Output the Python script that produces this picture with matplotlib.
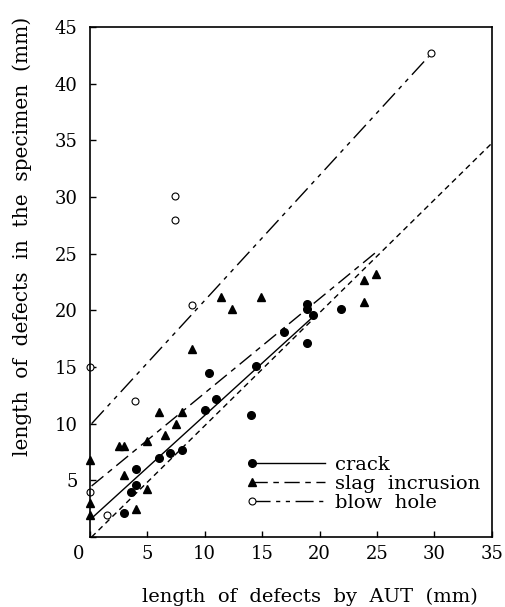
import numpy as np
import matplotlib
matplotlib.use('Agg')
import matplotlib.pyplot as plt
from matplotlib.lines import Line2D
from matplotlib.legend_handler import HandlerLine2D
import matplotlib.transforms as mtransforms

crack_x = [3.0, 3.6, 4.0, 4.0, 6.0, 7.0, 8.0, 10.0, 10.4, 11.0, 14.0, 14.5, 16.9, 18.9, 18.9, 18.9, 19.4, 21.9]
crack_y = [2.1, 4.0, 4.6, 6.0, 7.0, 7.4, 7.7, 11.2, 14.5, 12.2, 10.8, 15.1, 18.1, 20.6, 20.1, 17.1, 19.6, 20.15]

slag_x = [0.0, 0.0, 0.0, 2.5, 3.0, 3.0, 4.0, 5.0, 5.0, 6.0, 6.5, 7.5, 8.0, 8.9, 11.4, 12.4, 14.9, 23.9, 23.9, 24.9]
slag_y = [6.8, 3.0, 1.9, 8.0, 8.0, 5.5, 2.5, 8.5, 4.2, 11.0, 9.0, 10.0, 11.0, 16.6, 21.2, 20.15, 21.2, 22.7, 20.7, 23.2]

blow_x = [0.0, 0.0, 1.5, 3.9, 8.9, 7.4, 7.4, 29.7]
blow_y = [15.0, 4.0, 1.9, 12.0, 20.5, 30.1, 28.0, 42.7]

# regression lines (end points)
crack_fit_x = [0.2, 19.4]
crack_fit_y = [1.7, 19.4]
slag_fit_x = [0.15, 25.0]
slag_fit_y = [4.5, 25.2]
blow_fit_x = [0.15, 29.5]
blow_fit_y = [10.0, 42.4]
ref_x = [0.15, 35.0]
ref_y = [0.0, 34.75]

xticks = [0, 5, 10, 15, 20, 25, 30, 35]
yticks = [0, 5, 10, 15, 20, 25, 30, 35, 40, 45]

plt.rcParams['font.family'] = ['DejaVu Serif']
plt.rcParams['lines.scale_dashes'] = False

fig = plt.figure(figsize=(5.05, 6.07), dpi=100)
ax = fig.add_axes([0.178, 0.1153, 0.796, 0.8402])

slag_dash = (11, 4, 4, 4)
blow_dash = (13, 4, 3, 4, 3, 4)

ax.plot(crack_fit_x, crack_fit_y, color='black', lw=1.0, ls='-')
ax.plot(slag_fit_x, slag_fit_y, color='black', lw=1.0, dashes=slag_dash)
ax.plot(blow_fit_x, blow_fit_y, color='black', lw=1.0, dashes=blow_dash)
ax.plot(ref_x, ref_y, color='black', lw=1.0, dashes=(4, 3))

ax.plot(crack_x, crack_y, 'o', color='black', ms=5.5, clip_on=False)
ax.plot(slag_x, slag_y, '^', color='black', ms=6, clip_on=False)
ax.plot(blow_x, blow_y, 'o', mfc='white', mec='black', mew=0.8, ms=5, clip_on=False)

ax.set_xlim(0, 35)
ax.set_ylim(0, 45)
ax.set_xticks(xticks)
ax.set_yticks(yticks)
ax.set_xticklabels([str(t) for t in xticks])
ax.set_yticklabels([''] + [str(t) for t in yticks[1:]])
ax.tick_params(direction='in', length=4, width=1.0, labelsize=13, pad=6)
ax.tick_params(axis='y', pad=9)
for s in ax.spines.values():
    s.set_linewidth(1.2)

# shared origin label sits left of the corner
lab0 = ax.get_xticklabels()[0]
lab0.set_transform(lab0.get_transform() + mtransforms.ScaledTranslation(-0.11, 0, fig.dpi_scale_trans))


class LeftMarker(HandlerLine2D):
    # put the legend marker at the left end of the sample line
    def create_artists(self, *args, **kwargs):
        arts = super().create_artists(*args, **kwargs)
        for a in arts:
            a.set_markevery([0])
        return arts


handles = [
    Line2D([], [], color='black', lw=1.0, ls='-', marker='o', ms=5.5),
    Line2D([], [], color='black', lw=1.0, dashes=slag_dash, marker='^', ms=6),
    Line2D([], [], color='black', lw=1.0, dashes=blow_dash, marker='o', mfc='white', mew=0.8, ms=5),
]
ax.legend(handles, ['crack', 'slag  incrusion', 'blow  hole'],
          handler_map={Line2D: LeftMarker(numpoints=1)},
          loc='lower left', bbox_to_anchor=(0.38, 0.03), frameon=False,
          fontsize=14, handlelength=3.75, handletextpad=0.5, labelspacing=0.05,
          borderpad=0)

fig.text(310 / 505, 1 - 597 / 607, 'length  of  defects  by  AUT  (mm)',
         ha='center', va='center', fontsize=14)
fig.text(22 / 505, 1 - 236 / 607, 'length  of  defects  in  the  specimen  (mm)',
         ha='center', va='center', rotation=90, fontsize=14.5)

fig.savefig('out.png', dpi=100)
